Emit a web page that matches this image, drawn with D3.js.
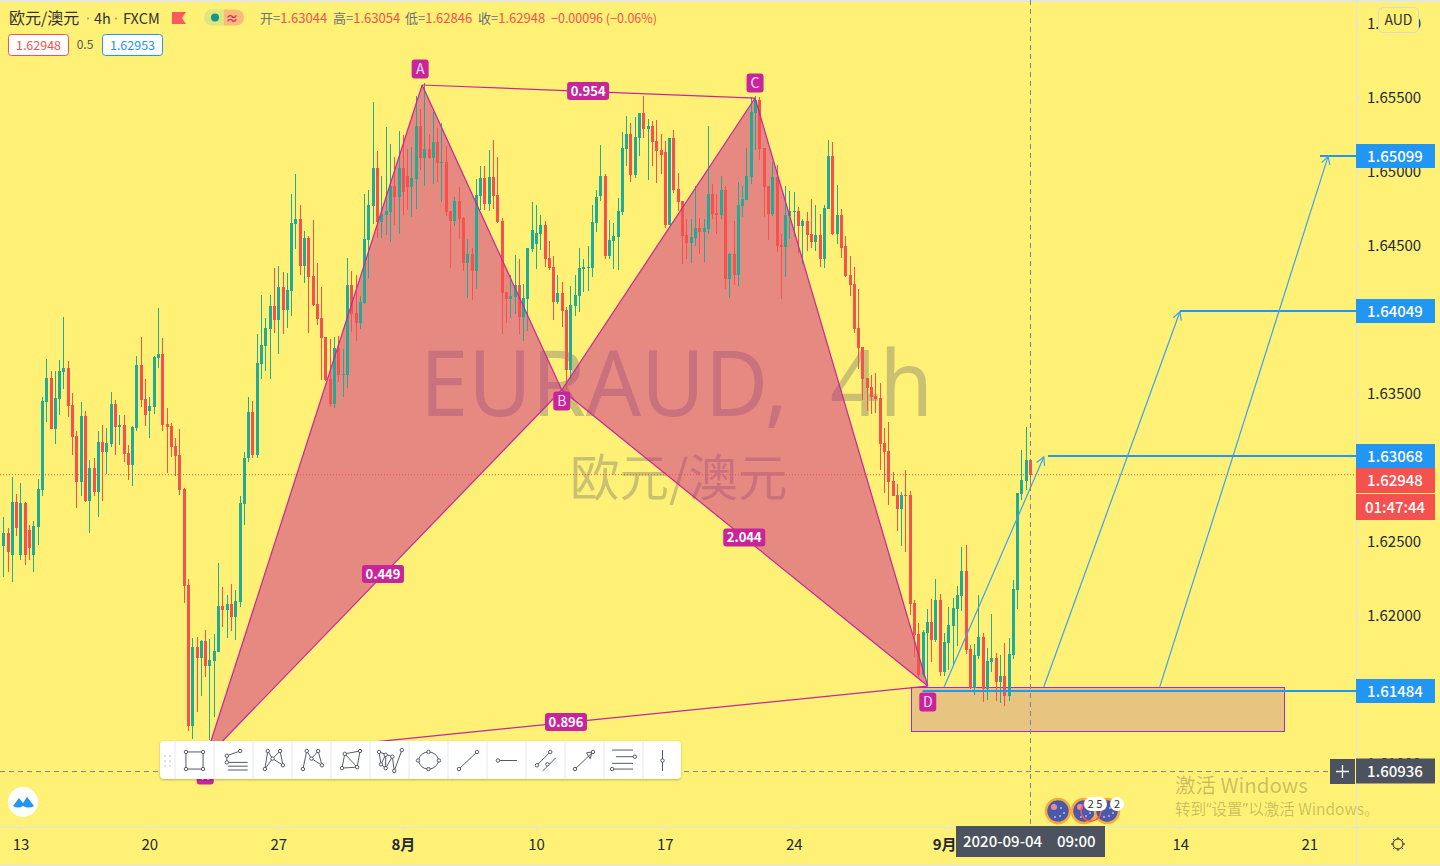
<!DOCTYPE html>
<html>
<head>
<meta charset="utf-8">
<script src="https://cdnjs.cloudflare.com/ajax/libs/d3/7.8.5/d3.min.js"></script>
<style>
html, body { margin: 0; padding: 0; overflow: hidden; background: #FFF176; }
text { font-family: "Noto Sans CJK SC", "Noto Sans", sans-serif; }
</style>
</head>
<body>
<div id="chart"></div>
<script>
// 4h candles, oldest first
const opens = [1.62466,1.62554,1.62405,1.62763,1.62405,1.62757,1.62574,1.62405,1.62595,1.62844,1.63439,1.63601,1.63256,1.63459,1.63641,1.63669,1.63419,1.63209,1.62898,1.63344,
1.62770,1.62993,1.62830,1.63168,1.63101,1.63155,1.63426,1.63270,1.63283,1.63095,1.63013,1.63263,1.63689,1.63459,1.63378,1.63406,1.63736,1.63763,1.63290,1.63276,
1.63141,1.63081,1.62851,1.62202,1.61249,1.61784,1.61709,1.61824,1.61655,1.61689,1.61749,1.62060,1.62034,1.62074,1.61987,1.62087,1.62750,1.63061,1.63371,1.63081,
1.63696,1.63817,1.63932,1.64087,1.63993,1.64216,1.64061,1.64189,1.64642,1.64675,1.64357,1.64547,1.64290,1.64101,1.64007,1.63878,1.63594,1.63426,1.63804,1.63621,
1.63621,1.64229,1.64041,1.63973,1.64108,1.64534,1.64763,1.65020,1.64655,1.64702,1.64722,1.64898,1.64824,1.65020,1.64966,1.64892,1.64946,1.65303,1.65088,1.65148,
1.65088,1.65195,1.65054,1.65060,1.64729,1.64662,1.64797,1.64682,1.64378,1.64439,1.64324,1.64831,1.64953,1.64777,1.64959,1.64837,1.64662,1.64182,1.64135,1.64148,
1.64229,1.64014,1.64135,1.64473,1.64507,1.64574,1.64635,1.64412,1.64351,1.64114,1.64176,1.64061,1.63655,1.64087,1.64155,1.64337,1.64344,1.64344,1.64649,1.64831,
1.64966,1.64425,1.64527,1.64554,1.64722,1.65148,1.65250,1.64973,1.65223,1.65392,1.65283,1.65303,1.65202,1.65142,1.65128,1.64635,1.65223,1.64878,1.64797,1.64567,
1.64513,1.64547,1.64615,1.64587,1.64608,1.64844,1.64716,1.64702,1.64871,1.64270,1.64439,1.64297,1.64763,1.64804,1.64959,1.65392,1.65480,1.65155,1.64898,1.64709,
1.64959,1.64500,1.64487,1.64695,1.64722,1.64729,1.64628,1.64662,1.64574,1.64520,1.64567,1.64405,1.64743,1.65101,1.64574,1.64702,1.64493,1.64297,1.64236,1.63939,
1.63811,1.63601,1.63540,1.63480,1.63466,1.63162,1.63108,1.62905,1.62810,1.62716,1.62810,1.62810,1.62081,1.61872,1.61595,1.61879,1.61953,1.61831,1.62101,1.61614,
1.61811,1.61925,1.62040,1.62128,1.62297,1.61770,1.61507,1.61722,1.61852,1.61500,1.61682,1.61709,1.61547,1.61587,1.61452,1.61729,1.62169,1.62817,1.62905,1.63044];
const highs = [1.62662,1.62588,1.62933,1.62817,1.62892,1.62763,1.62608,1.62635,1.62919,1.63473,1.63729,1.63648,1.63648,1.63723,1.64014,1.63716,1.63500,1.63243,1.63439,1.63378,
1.63047,1.63061,1.63243,1.63283,1.63263,1.63506,1.63453,1.63351,1.63351,1.63148,1.63276,1.63749,1.63878,1.63594,1.63473,1.63749,1.64074,1.63871,1.63399,1.63297,
1.63196,1.63256,1.62858,1.62243,1.61845,1.61852,1.61831,1.61899,1.61838,1.61872,1.62351,1.62189,1.62135,1.62209,1.62169,1.62803,1.63101,1.63473,1.63446,1.63898,
1.64162,1.64007,1.64162,1.64344,1.64357,1.64317,1.64311,1.64844,1.64980,1.64770,1.64594,1.64560,1.64669,1.64378,1.64216,1.63878,1.63864,1.63878,1.63884,1.63797,
1.64412,1.64324,1.64297,1.64155,1.64844,1.64871,1.65466,1.65135,1.64966,1.65297,1.65182,1.65095,1.65270,1.65243,1.65148,1.65162,1.65507,1.65419,1.65594,1.65250,
1.65398,1.65290,1.65324,1.65168,1.64729,1.64824,1.64892,1.64689,1.64540,1.64480,1.64946,1.65033,1.65033,1.65142,1.65209,1.65095,1.64682,1.64182,1.64297,1.64432,
1.64405,1.64236,1.64480,1.64790,1.64770,1.64702,1.64662,1.64527,1.64425,1.64297,1.64249,1.64081,1.64222,1.64297,1.64480,1.64405,1.64493,1.64770,1.64871,1.65175,
1.64980,1.64669,1.64649,1.64817,1.65263,1.65371,1.65324,1.65365,1.65392,1.65507,1.65351,1.65337,1.65344,1.65250,1.65202,1.65223,1.65277,1.64987,1.64797,1.64675,
1.64675,1.64898,1.64682,1.64675,1.65303,1.64912,1.64844,1.64966,1.64898,1.64446,1.64662,1.64925,1.64898,1.65155,1.65500,1.65507,1.65500,1.65155,1.64898,1.65060,
1.65040,1.64574,1.64898,1.64864,1.64857,1.64757,1.64675,1.64722,1.64810,1.64770,1.64709,1.64770,1.65209,1.65195,1.64905,1.64743,1.64560,1.64425,1.64351,1.64202,
1.63811,1.63601,1.63621,1.63635,1.63568,1.63263,1.63303,1.62966,1.62885,1.62830,1.62980,1.62837,1.62101,1.61946,1.61899,1.62040,1.62108,1.62243,1.62142,1.61879,
1.62054,1.62115,1.62195,1.62460,1.62473,1.61797,1.61804,1.62135,1.61879,1.61777,1.62007,1.61743,1.61729,1.61811,1.61845,1.62236,1.62824,1.63115,1.63270,1.63054];
const lows = [1.62257,1.62290,1.62222,1.62533,1.62371,1.62337,1.62371,1.62290,1.62473,1.62803,1.63303,1.63256,1.63155,1.63351,1.63527,1.63338,1.63081,1.62723,1.62803,1.62763,
1.62554,1.62803,1.62662,1.62770,1.62953,1.63135,1.63081,1.63148,1.63033,1.62912,1.62871,1.63243,1.63406,1.63276,1.63196,1.63358,1.63669,1.63243,1.62960,1.63068,
1.62939,1.62810,1.62081,1.61216,1.61162,1.61344,1.61452,1.61581,1.61155,1.61311,1.61749,1.61919,1.61845,1.61892,1.61831,1.62054,1.62608,1.63033,1.63061,1.63061,
1.63594,1.63648,1.63594,1.63905,1.63763,1.63898,1.63939,1.64020,1.64473,1.64297,1.64243,1.63905,1.64087,1.63959,1.63588,1.63581,1.63406,1.63399,1.63574,1.63473,
1.63534,1.63911,1.63851,1.63932,1.64101,1.64277,1.64642,1.64547,1.64547,1.64567,1.64520,1.64635,1.64574,1.64702,1.64736,1.64689,1.64743,1.65007,1.64898,1.65081,
1.64912,1.64925,1.64790,1.64695,1.64344,1.64628,1.64540,1.64324,1.64142,1.64128,1.64202,1.64736,1.64736,1.64729,1.64743,1.64649,1.63898,1.63973,1.64007,1.64034,
1.63898,1.63851,1.63918,1.64452,1.64337,1.64466,1.64351,1.64331,1.63993,1.64101,1.63946,1.63520,1.63588,1.64020,1.64047,1.64182,1.64189,1.64284,1.64587,1.64797,
1.64405,1.64405,1.64337,1.64331,1.64702,1.65033,1.64925,1.64953,1.65101,1.65223,1.64939,1.65033,1.64919,1.64980,1.64615,1.64635,1.64851,1.64729,1.64371,1.64405,
1.64378,1.64493,1.64439,1.64384,1.64574,1.64675,1.64574,1.64675,1.64202,1.64142,1.64229,1.64222,1.64689,1.64804,1.64912,1.65142,1.65074,1.64689,1.64534,1.64695,
1.64452,1.64135,1.64284,1.64540,1.64554,1.64446,1.64371,1.64459,1.64480,1.64459,1.64351,1.64344,1.64743,1.64567,1.64507,1.64412,1.64284,1.64155,1.63905,1.63662,
1.63453,1.63378,1.63358,1.63365,1.62980,1.62824,1.62743,1.62803,1.62567,1.62466,1.62425,1.62000,1.61716,1.61581,1.61581,1.61534,1.61682,1.61817,1.61587,1.61587,
1.61628,1.61655,1.61790,1.62027,1.61736,1.61500,1.61459,1.61702,1.61412,1.61426,1.61614,1.61419,1.61406,1.61385,1.61419,1.61702,1.62040,1.62777,1.62844,1.62846];
const closes = [1.62554,1.62425,1.62763,1.62588,1.62757,1.62405,1.62453,1.62601,1.62851,1.63446,1.63601,1.63256,1.63466,1.63648,1.63669,1.63412,1.63203,1.62898,1.63344,1.62770,
1.62993,1.62830,1.63168,1.63101,1.63162,1.63426,1.63270,1.63283,1.63088,1.63013,1.63270,1.63689,1.63453,1.63351,1.63412,1.63743,1.63763,1.63283,1.63270,1.63135,
1.63074,1.62844,1.62195,1.61249,1.61784,1.61709,1.61824,1.61655,1.61696,1.61756,1.62060,1.62034,1.62074,1.61987,1.62094,1.62757,1.63061,1.63371,1.63081,1.63703,
1.63824,1.63939,1.64087,1.63993,1.64216,1.64061,1.64196,1.64649,1.64675,1.64357,1.64547,1.64284,1.64094,1.64000,1.63871,1.63588,1.63426,1.63804,1.63621,1.63628,
1.64229,1.64034,1.63973,1.64114,1.64540,1.64770,1.65020,1.64655,1.64709,1.64729,1.64898,1.64824,1.65020,1.64857,1.64892,1.64953,1.65303,1.65088,1.65148,1.65088,
1.65195,1.65054,1.65060,1.64722,1.64662,1.64797,1.64675,1.64378,1.64439,1.64324,1.64837,1.64953,1.64777,1.64959,1.64831,1.64655,1.64176,1.64135,1.64155,1.64229,
1.64014,1.64142,1.64480,1.64601,1.64581,1.64635,1.64405,1.64344,1.64114,1.64176,1.64054,1.63655,1.64094,1.64162,1.64344,1.64351,1.64351,1.64655,1.64824,1.64966,
1.64425,1.64534,1.64560,1.64729,1.65155,1.65250,1.64973,1.65229,1.65392,1.65283,1.65303,1.65195,1.65135,1.65108,1.64635,1.65223,1.64871,1.64790,1.64560,1.64513,
1.64554,1.64615,1.64587,1.64615,1.64844,1.64709,1.64702,1.64871,1.64270,1.64439,1.64297,1.64770,1.64810,1.64966,1.65398,1.65480,1.65148,1.64892,1.64709,1.64959,
1.64493,1.64487,1.64702,1.64729,1.64729,1.64628,1.64662,1.64567,1.64520,1.64567,1.64405,1.64750,1.65101,1.64574,1.64702,1.64480,1.64290,1.64229,1.63932,1.63804,
1.63594,1.63534,1.63473,1.63459,1.63155,1.63101,1.62898,1.62803,1.62716,1.62810,1.62803,1.62074,1.61865,1.61595,1.61885,1.61953,1.61831,1.62101,1.61614,1.61817,
1.61932,1.62047,1.62135,1.62297,1.61763,1.61507,1.61729,1.61852,1.61500,1.61689,1.61709,1.61547,1.61587,1.61452,1.61736,1.62176,1.62824,1.62912,1.63047,1.62948];

// axis ticks: bar index -> label, both ways the chart shows them
const timeTickIndex = [4, 34, 64, 93, 124, 154, 184, 219, 274, 304];
const timeTickLabels = ["13", "20", "27", "8月", "10", "17", "24", "9月", "14", "21"];
// 1.640, 1.630 and 1.615 sit under the coloured price labels, so they are left out
const priceTicks = [1.66, 1.655, 1.65, 1.645, 1.635, 1.625, 1.62, 1.61];

// harmonic pattern points
const patternNames = ["X", "A", "B", "C", "D"];
const patternIndex = [47, 97.5, 130, 175, 215.2];
const patternPrice = [1.61027, 1.65581, 1.63520, 1.65493, 1.61520];
const ratioLabels = ["0.449", "0.954", "2.044", "0.896"];

// target lines, drawn from the entry box to the right axis
const targetPrices = [1.61484, 1.63068, 1.64049, 1.65099];
const targetStart = [214, 243.2, 273.9, 306.5];
const arrowStart = [219, 242.2, 269.2];
const arrowEnd = [242.2, 273.9, 308.4];
const arrowPrice = [1.63068, 1.64049, 1.65099];
const boxIndex = [211.3, 298.1];
const boxPrice = [1.61514, 1.61216];

const lastPrice = 1.62948;
const crossPrice = 1.60936;
const crossIndex = 239;

const width = 1440, height = 866;
const axisX = 1356, axisY = 827;
const upColor = "#22ab94", downColor = "#f5524f", blue = "#2196f3", pink = "#c8259b", dark = "#4c525e";

const x = d3.scaleLinear().domain([0, 239]).range([3.3, 1030]);
const y = d3.scaleLinear().domain([1.61, 1.655]).range([763, 97]);

const svg = d3.select("#chart").append("svg")
    .attr("width", width)
    .attr("height", height)
    .style("display", "block");

svg.append("rect").attr("width", width).attr("height", height).attr("fill", "#FFF176");
svg.append("rect").attr("width", width).attr("height", 2).attr("fill", "#e6e6e0");

// watermark sits under everything
const mark = svg.append("g")
    .attr("font-size", 92)
    .attr("fill", "#696969").attr("fill-opacity", 0.36)
    .style("font-family", "'Noto Sans', sans-serif");
mark.append("text").attr("x", 420).attr("y", 416)
    .attr("textLength", 368).attr("lengthAdjust", "spacingAndGlyphs")
    .style("font-family", "'Noto Sans', sans-serif")
    .text("EURAUD,");
mark.append("text").attr("x", 830).attr("y", 416)
    .attr("textLength", 103).attr("lengthAdjust", "spacingAndGlyphs")
    .style("font-family", "'Noto Sans', sans-serif")
    .text("4h");
svg.append("text").attr("x", 570).attr("y", 496)
    .attr("font-size", 49.5).attr("fill", "#696969").attr("fill-opacity", 0.36)
    .text("欧元/澳元");

// pattern fills are see-through and go under the candles
const pts = patternIndex.map((d, i) => [x(d), y(patternPrice[i])]);
const plot = svg.append("g");
[[0, 1, 2], [2, 3, 4]].forEach(tri => {
    plot.append("path")
        .attr("d", d3.line()(tri.map(i => pts[i])) + "Z")
        .attr("fill", "#cb218c")
        .attr("fill-opacity", 0.5);
});

// entry box
plot.append("rect")
    .attr("x", Math.round(x(boxIndex[0])) + 0.5).attr("y", Math.round(y(boxPrice[0])) + 0.5)
    .attr("width", Math.round(x(boxIndex[1]) - x(boxIndex[0])))
    .attr("height", Math.round(y(boxPrice[1]) - y(boxPrice[0])))
    .attr("fill", "#c3838f").attr("fill-opacity", 0.4)
    .attr("stroke", "#a82cc8");

// dotted last price line
plot.append("line")
    .attr("x1", 0).attr("x2", axisX)
    .attr("y1", y(lastPrice)).attr("y2", y(lastPrice))
    .attr("stroke", downColor).attr("stroke-dasharray", "1 2");

const candles = opens.map((o, i) => ({ i, o, h: highs[i], l: lows[i], c: closes[i] }));
const candleG = svg.append("g").attr("shape-rendering", "crispEdges");
const colorOf = d => d.c >= d.o ? upColor : downColor;
candleG.selectAll(".wick").data(candles).enter().append("rect")
    .attr("class", "wick")
    .attr("x", d => Math.round(x(d.i)))
    .attr("y", d => Math.round(y(d.h)))
    .attr("width", 1)
    .attr("height", d => Math.max(1, Math.round(y(d.l)) - Math.round(y(d.h))))
    .attr("fill", colorOf);
candleG.selectAll(".body").data(candles).enter().append("rect")
    .attr("class", "body")
    .attr("x", d => Math.round(x(d.i)) - 1)
    .attr("y", d => Math.round(y(Math.max(d.o, d.c))))
    .attr("width", 3)
    .attr("height", d => Math.max(1, Math.round(y(Math.min(d.o, d.c))) - Math.round(y(Math.max(d.o, d.c)))))
    .attr("fill", colorOf);

// pattern edges on top of the candles
const edgeG = svg.append("g").attr("fill", "none").attr("stroke", pink).attr("stroke-width", 1.2);
[[0, 1], [1, 2], [2, 3], [3, 4], [0, 2], [2, 4], [1, 3], [0, 4]].forEach(e => {
    edgeG.append("line")
        .attr("x1", pts[e[0]][0]).attr("y1", pts[e[0]][1])
        .attr("x2", pts[e[1]][0]).attr("y2", pts[e[1]][1]);
});

// price scale labels that carry a line
targetPrices.forEach((p, i) => {
    svg.append("line")
        .attr("x1", x(targetStart[i])).attr("x2", axisX)
        .attr("y1", Math.floor(y(p))).attr("y2", Math.floor(y(p)))
        .attr("stroke", blue).attr("stroke-width", 2);
});

// arrows to the targets
arrowStart.forEach((s, i) => {
    const x1 = x(s), y1 = y(boxPrice[0]), x2 = x(arrowEnd[i]), y2 = y(arrowPrice[i]);
    const a = Math.atan2(y2 - y1, x2 - x1), len = 9;
    const g = svg.append("g").attr("fill", "none").attr("stroke", "#3ba2f0").attr("stroke-width", 1.2);
    g.append("line").attr("x1", x1).attr("y1", y1).attr("x2", x2).attr("y2", y2);
    g.append("path").attr("d", d3.line()([
        [x2 - len * Math.cos(a - 0.5), y2 - len * Math.sin(a - 0.5)],
        [x2, y2],
        [x2 - len * Math.cos(a + 0.5), y2 - len * Math.sin(a + 0.5)]
    ]));
});

// crosshair
const cross = svg.append("g").attr("stroke", "#758696").attr("stroke-dasharray", "5 4");
cross.append("line").attr("x1", Math.round(x(crossIndex)) + 0.5).attr("x2", Math.round(x(crossIndex)) + 0.5)
    .attr("y1", 0).attr("y2", axisY);
cross.append("line").attr("x1", 0).attr("x2", axisX)
    .attr("y1", Math.round(y(crossPrice)) - 0.5).attr("y2", Math.round(y(crossPrice)) - 0.5);

// point badges and ratio tags
const badge = (cx, cy, w, h, txt, size, weight, color) => {
    svg.append("rect").attr("x", cx - w / 2).attr("y", cy - h / 2).attr("width", w).attr("height", h)
        .attr("rx", 3).attr("fill", pink);
    svg.append("text").attr("x", cx).attr("y", cy + size * 0.36).attr("text-anchor", "middle")
        .attr("font-size", size).attr("font-weight", weight).attr("fill", color).text(txt);
};
const badgeDx = [0, -2, 0, 0, 0];
const badgeDy = [16, -16, 11, -15, 16];
patternNames.forEach((n, i) => badge(pts[i][0] + badgeDx[i], pts[i][1] + badgeDy[i], 17, 19, n, 14, 400, "#f8dcf2"));
[[0, 2], [1, 3], [2, 4], [0, 4]].forEach((e, i) => {
    badge((pts[e[0]][0] + pts[e[1]][0]) / 2 - 0.5, (pts[e[0]][1] + pts[e[1]][1]) / 2 - 0.5, 42, 18, ratioLabels[i], 13, 700, "#fff");
});

// right and bottom axes
const axisColor = "#dfe3ea";
const priceAxis = svg.append("g")
    .attr("transform", `translate(${axisX},0.7)`)
    .call(d3.axisRight(y).tickValues(priceTicks).tickFormat(d3.format(".5f")).tickSize(4).tickPadding(7));
const timeAxis = svg.append("g")
    .attr("transform", `translate(0,${axisY})`)
    .call(d3.axisBottom(x).tickValues(timeTickIndex)
        .tickFormat((d, i) => timeTickLabels[i]).tickSize(4).tickPadding(8));
[priceAxis, timeAxis].forEach(a => {
    a.selectAll("line").attr("stroke", axisColor);
    a.selectAll("text").attr("fill", "#1f2937").attr("font-size", 15);
    a.select(".domain").remove();
});
timeAxis.selectAll("text").filter((d, i) => timeTickLabels[i].endsWith("月")).attr("font-weight", 700);
svg.append("line").attr("x1", axisX + 0.5).attr("x2", axisX + 0.5).attr("y1", 0).attr("y2", height).attr("stroke", axisColor);
svg.append("line").attr("x1", 0).attr("x2", width).attr("y1", axisY + 0.5).attr("y2", axisY + 0.5).attr("stroke", axisColor);
svg.append("line").attr("x1", 0).attr("x2", width).attr("y1", 865.5).attr("y2", 865.5).attr("stroke", axisColor);

// labels on the price scale
const fmt = d3.format(".5f");
const axisLabel = (cy, h, bg, txt, weight) => {
    svg.append("rect").attr("x", axisX).attr("y", cy - h / 2).attr("width", 79).attr("height", h).attr("fill", bg);
    svg.append("text").attr("x", 1395).attr("y", cy + 5.5).attr("text-anchor", "middle")
        .attr("font-size", 15).attr("font-weight", weight).attr("fill", "#fff").text(txt);
};
targetPrices.forEach(p => axisLabel(Math.floor(y(p)), 24, blue, fmt(p), 500));
axisLabel(Math.round(y(lastPrice)) + 5.5, 25, downColor, fmt(lastPrice), 500);
axisLabel(507, 26, downColor, "01:47:44", 500);
axisLabel(Math.round(y(crossPrice)) - 1, 25, dark, fmt(crossPrice), 500);

// crosshair plus button and date tag
svg.append("rect").attr("x", 1330).attr("y", 759).attr("width", 25).attr("height", 25).attr("fill", dark);
svg.append("path").attr("d", "M1336 771.5H1349M1342.5 765V778").attr("stroke", "#fff").attr("stroke-width", 1.3);
svg.append("rect").attr("x", 956).attr("y", 826).attr("width", 149).attr("height", 31).attr("fill", dark);
svg.append("text").attr("x", 963).attr("y", 847).attr("font-size", 15).attr("font-weight", 500)
    .attr("fill", "#fff").text("2020-09-04");
svg.append("text").attr("x", 1057).attr("y", 847).attr("font-size", 15).attr("font-weight", 500)
    .attr("fill", "#fff").text("09:00");

// AUD button
svg.append("rect").attr("x", 1378.5).attr("y", 7.5).attr("width", 40).attr("height", 25).attr("rx", 4)
    .attr("fill", "#FFF176").attr("stroke", "#d9d9cc");
svg.append("text").attr("x", 1398.5).attr("y", 25).attr("text-anchor", "middle")
    .attr("font-size", 14).attr("fill", "#333").text("AUD");

// settings gear
const gear = svg.append("g").attr("transform", "translate(1398,844)").attr("stroke", "#222").attr("fill", "none");
gear.append("circle").attr("r", 5);
d3.range(8).forEach(k => {
    const a = k * Math.PI / 4;
    gear.append("line").attr("x1", 5 * Math.cos(a)).attr("y1", 5 * Math.sin(a))
        .attr("x2", 7 * Math.cos(a)).attr("y2", 7 * Math.sin(a));
});

// top legend
const legend = svg.append("g").attr("font-size", 14);
const titleParts = ["欧元/澳元", "4h", "FXCM"];
const titleX = [9, 94, 123];
const titleSize = [16, 14.5, 14.5];
titleParts.forEach((t, i) => {
    legend.append("text").attr("x", titleX[i]).attr("y", 24).attr("font-size", titleSize[i]).attr("fill", "#333").text(t);
});
[88, 116].forEach(dx => legend.append("circle").attr("cx", dx).attr("cy", 18.5).attr("r", 0.9).attr("fill", "#8a8a80"));
legend.append("path").attr("d", "M172 12H186L182 18L186 24H172Z").attr("fill", "#fb5a5a");
legend.append("path").attr("d", "M212 9.5H224V25.5H212A8 8 0 0 1 212 9.5Z").attr("fill", "#dfe67c");
legend.append("path").attr("d", "M224 9.5H236A8 8 0 0 1 236 25.5H224Z").attr("fill", "#fbbc7a");
legend.append("circle").attr("cx", 215).attr("cy", 17.5).attr("r", 4).attr("fill", "#11988a");
legend.append("text").attr("x", 232).attr("y", 23).attr("text-anchor", "middle").attr("font-size", 13)
    .attr("font-weight", 700).attr("fill", "#d8326a").text("≈");

const ohlcLabels = ["开=", "高=", "低=", "收="];
const ohlcValues = [opens[239], highs[239], lows[239], closes[239]];
const ohlcX = [260, 333, 405, 478];
const ohlcSize = 13;
ohlcLabels.forEach((l, i) => {
    const t = legend.append("text").attr("x", ohlcX[i]).attr("y", 23).attr("font-size", ohlcSize).attr("fill", "#6b6f78");
    t.append("tspan").text(l);
    t.append("tspan").attr("fill", downColor).text(fmt(ohlcValues[i]));
});
legend.append("text").attr("x", 551).attr("y", 23).attr("font-size", 12.5).attr("fill", downColor).text("−0.00096 (−0.06%)");

const priceBox = (bx, w, color, txt) => {
    legend.append("rect").attr("x", bx + 0.5).attr("y", 34.5).attr("width", w).attr("height", 21).attr("rx", 3)
        .attr("fill", "#fff").attr("stroke", color);
    legend.append("text").attr("x", bx + w / 2 + 0.5).attr("y", 49.5).attr("text-anchor", "middle")
        .attr("font-size", 12.5).attr("fill", color).text(txt);
};
priceBox(8, 60, downColor, "1.62948");
legend.append("text").attr("x", 85).attr("y", 49).attr("text-anchor", "middle").attr("font-size", 12).attr("fill", "#555").text("0.5");
priceBox(102, 60, blue, "1.62953");

// drawing toolbar, icons given as [path, handle circles] around each cell centre
const toolIcons = [
    ["M-9 -9H9V9H-9Z", [[-9, -9], [9, -9], [-9, 9], [9, 9]]],
    ["M-7 -5L7 -10M-7 -5V2M-6 2H15M-6 6H15M-6 10H15", [[-7, -5], [7, -10], [-7, 2]]],
    ["M-8 9L-5 -10L0 -2L8 -10L11 5L0 -2L-8 9", [[-8, 9], [-5, -10], [0, -2], [8, -10], [11, 5]]],
    ["M-9 9L-5 -10L0 -2L7 -10L11 5L0 -2", [[-9, 9], [-5, -10], [0, -2], [7, -10], [11, 5]]],
    ["M-9 8L-6 -7L10 -10L7 7Z M-6 -7L7 7", [[-9, 8], [-6, -7], [10, -10], [7, 7]]],
    ["M-11 -9L-9 4L-4 -6L-4 8L3 -4L5 11L13 -11M-9 4L-4 8M-11 -9L3 -4", [[-11, -9], [-9, 4], [-4, -6], [-4, 8], [3, -4], [5, 11], [13, -11]]],
    ["M-11 0Q-8 -9 0 -9Q8 -9 11 0Q8 9 0 9Q-8 9 -11 0", [[-11, 0], [0, -9], [11, 0], [0, 9]]],
    ["M-9 9L10 -9", [[-9, 9], [10, -9]]],
    ["M-9 0H11", [[-9, 0]]],
    ["M-9 5L5 -9M-3 11L11 -3", [[-9, 5], [5, -9], [2, 4]]],
    ["M-10 9L9 -9M2 -8L8 -9L6 -2Z", [[-10, 9], [9, -9]]],
    ["M-12 -11H10M-8 -4H12M-12 3H10M-12 9H10", [[12, -4], [-12, 9]]],
    ["M0 -11V11", [[0, 0]]]
];
const toolbar = svg.append("g");
toolbar.append("rect").attr("x", 160).attr("y", 741).attr("width", 521).attr("height", 38).attr("rx", 4)
    .attr("fill", "#fff").style("filter", "drop-shadow(0 1px 1px rgba(0,0,0,0.25))");
d3.range(2).forEach(c => d3.range(3).forEach(r => {
    toolbar.append("rect").attr("x", 164 + c * 5).attr("y", 755 + r * 5).attr("width", 2).attr("height", 2).attr("fill", "#dfe1e5");
}));
toolIcons.forEach((icon, k) => {
    const cx = 194.5 + k * 39;
    toolbar.append("line").attr("x1", cx - 19.5).attr("x2", cx - 19.5).attr("y1", 741).attr("y2", 779).attr("stroke", "#e6e8ec");
    const g = toolbar.append("g").attr("transform", `translate(${cx},760.5) scale(0.95)`);
    g.append("path").attr("d", icon[0]).attr("fill", "none").attr("stroke", "#4c525e").attr("stroke-width", 1);
    g.selectAll("circle").data(icon[1]).enter().append("circle")
        .attr("cx", d => d[0]).attr("cy", d => d[1]).attr("r", 1.8)
        .attr("fill", "#fff").attr("stroke", "#4c525e");
});

// logo button
svg.append("circle").attr("cx", 23).attr("cy", 802).attr("r", 15).attr("fill", "#fff");
svg.append("path").attr("d", "M13 806L19 798L23 803L27 797L34 806Q29 809 23 806Q18 809 13 806Z").attr("fill", "#2196f3");

// news event flags
const flagX = [1058, 1084, 1107];
flagX.forEach(fx => {
    svg.append("circle").attr("cx", fx).attr("cy", 811).attr("r", 12).attr("fill", "#4a5aa8")
        .attr("stroke", "#f9a83a").attr("stroke-width", 2.5);
    svg.append("circle").attr("cx", fx - 4).attr("cy", 807).attr("r", 3).attr("fill", "#e88aa0");
    [[3, -3], [6, 2], [2, 5], [-3, 6]].forEach(s => {
        svg.append("circle").attr("cx", fx + s[0]).attr("cy", 811 + s[1]).attr("r", 0.8).attr("fill", "#fff");
    });
});
svg.append("circle").attr("cx", 1091).attr("cy", 811).attr("r", 10).attr("fill", "none").attr("stroke", "#f7525f").attr("stroke-width", 1.5);
svg.append("rect").attr("x", 1084).attr("y", 797).attr("width", 23).attr("height", 14).attr("rx", 7).attr("fill", "#fff");
svg.append("circle").attr("cx", 1117).attr("cy", 804).attr("r", 7).attr("fill", "#fff");
svg.append("text").attr("x", 1095).attr("y", 808).attr("text-anchor", "middle").attr("font-size", 11).attr("fill", "#333").text("2 5");
svg.append("text").attr("x", 1117).attr("y", 808).attr("text-anchor", "middle").attr("font-size", 11).attr("fill", "#333").text("2");

// activation notice
svg.append("text").attr("x", 1175).attr("y", 793).attr("font-size", 20.5).attr("fill", "#000").attr("fill-opacity", 0.22).text("激活 Windows");
const notice = svg.append("text").attr("x", 1175).attr("y", 815).attr("font-size", 15.5).attr("fill", "#000").attr("fill-opacity", 0.22);
[["转到", false], ["“", true], ["设置", false], ["”", true], ["以激活 Windows。", false]].forEach(p => {
    const t = notice.append("tspan").text(p[0]);
    if (p[1]) t.style("font-family", "'Noto Sans', sans-serif");
});
</script>
</body>
</html>
